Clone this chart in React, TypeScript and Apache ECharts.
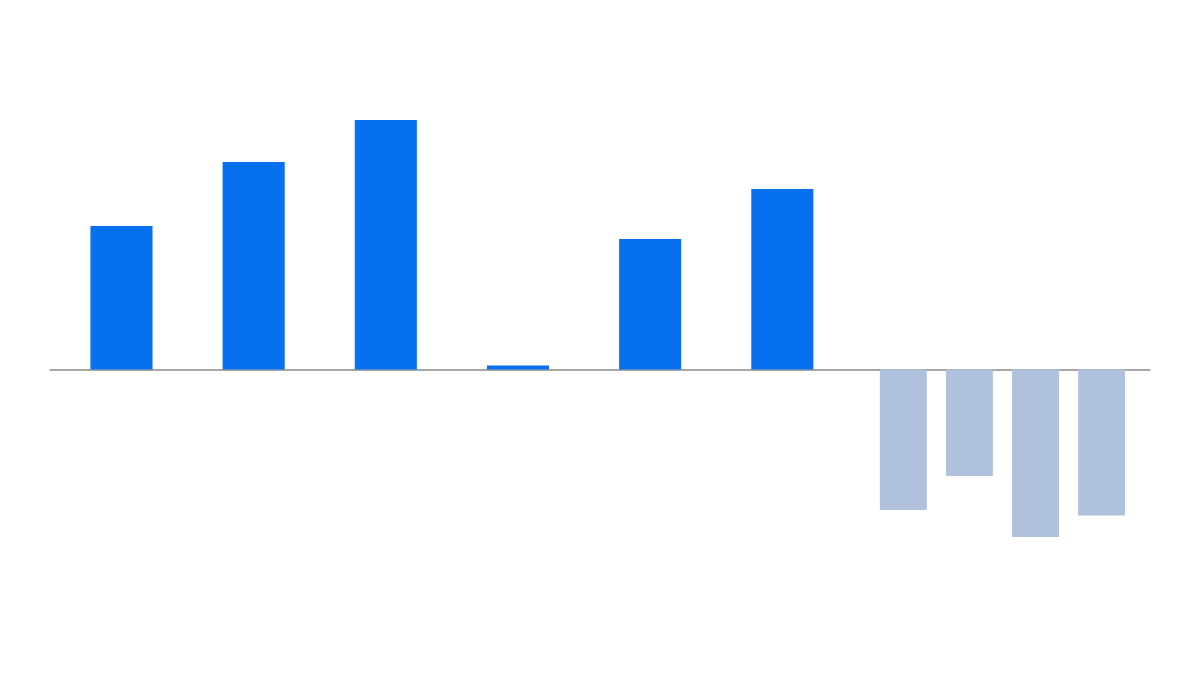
import {useEffect, useRef} from 'react';
import * as echarts from 'echarts';

// left group: six wide blue bars
const mainCategories = ['A', 'B', 'C', 'D', 'E', 'F'];
const mainValues = [14.35, 20.75, 24.95, 0.4, 13.05, 18.05];

// right group: four narrow negative bars
const sideCategories = ['G', 'H', 'I', 'J'];
const sideValues = [-14.05, -10.65, -16.75, -14.6];

const Y_MIN = -25;
const Y_MAX = 30;

export default function App() {
    const ref = useRef<HTMLDivElement | null>(null);

    useEffect(() => {
        document.body.style.margin = '0';
        if (!ref.current) return;
        const chart = echarts.init(ref.current, null, {renderer: 'svg'});

        const hiddenY = (gridIndex: number) => ({
            type: 'value' as const,
            gridIndex,
            min: Y_MIN,
            max: Y_MAX,
            show: false,
            splitLine: {show: false}
        });

        chart.setOption({
            animation: false,
            backgroundColor: '#ffffff',
            grid: [
                {left: 55.4, width: 793, top: 69.5, height: 550},
                {left: 870.3, width: 264.3, top: 69.5, height: 550},
                {left: 50, right: 50, top: 69.5, height: 550}
            ],
            xAxis: [
                {type: 'category', gridIndex: 0, data: mainCategories, show: false},
                {type: 'category', gridIndex: 1, data: sideCategories, show: false},
                {
                    type: 'value',
                    gridIndex: 2,
                    min: 0,
                    max: 1,
                    axisLine: {show: true, onZero: true, lineStyle: {color: '#8a8a8a', width: 1.5}},
                    axisTick: {show: false},
                    axisLabel: {show: false},
                    splitLine: {show: false}
                }
            ],
            yAxis: [hiddenY(0), hiddenY(1), hiddenY(2)],
            series: [
                {
                    type: 'bar',
                    xAxisIndex: 0,
                    yAxisIndex: 0,
                    data: mainValues,
                    barWidth: '47%',
                    itemStyle: {color: '#0670ef'},
                    z: 1
                },
                {
                    type: 'bar',
                    xAxisIndex: 1,
                    yAxisIndex: 1,
                    data: sideValues,
                    barWidth: '71%',
                    itemStyle: {color: '#afc1dc'},
                    z: 1
                }
            ]
        });

        return () => chart.dispose();
    }, []);

    return <div ref={ref} style={{width: 1200, height: 675}}/>;
}
